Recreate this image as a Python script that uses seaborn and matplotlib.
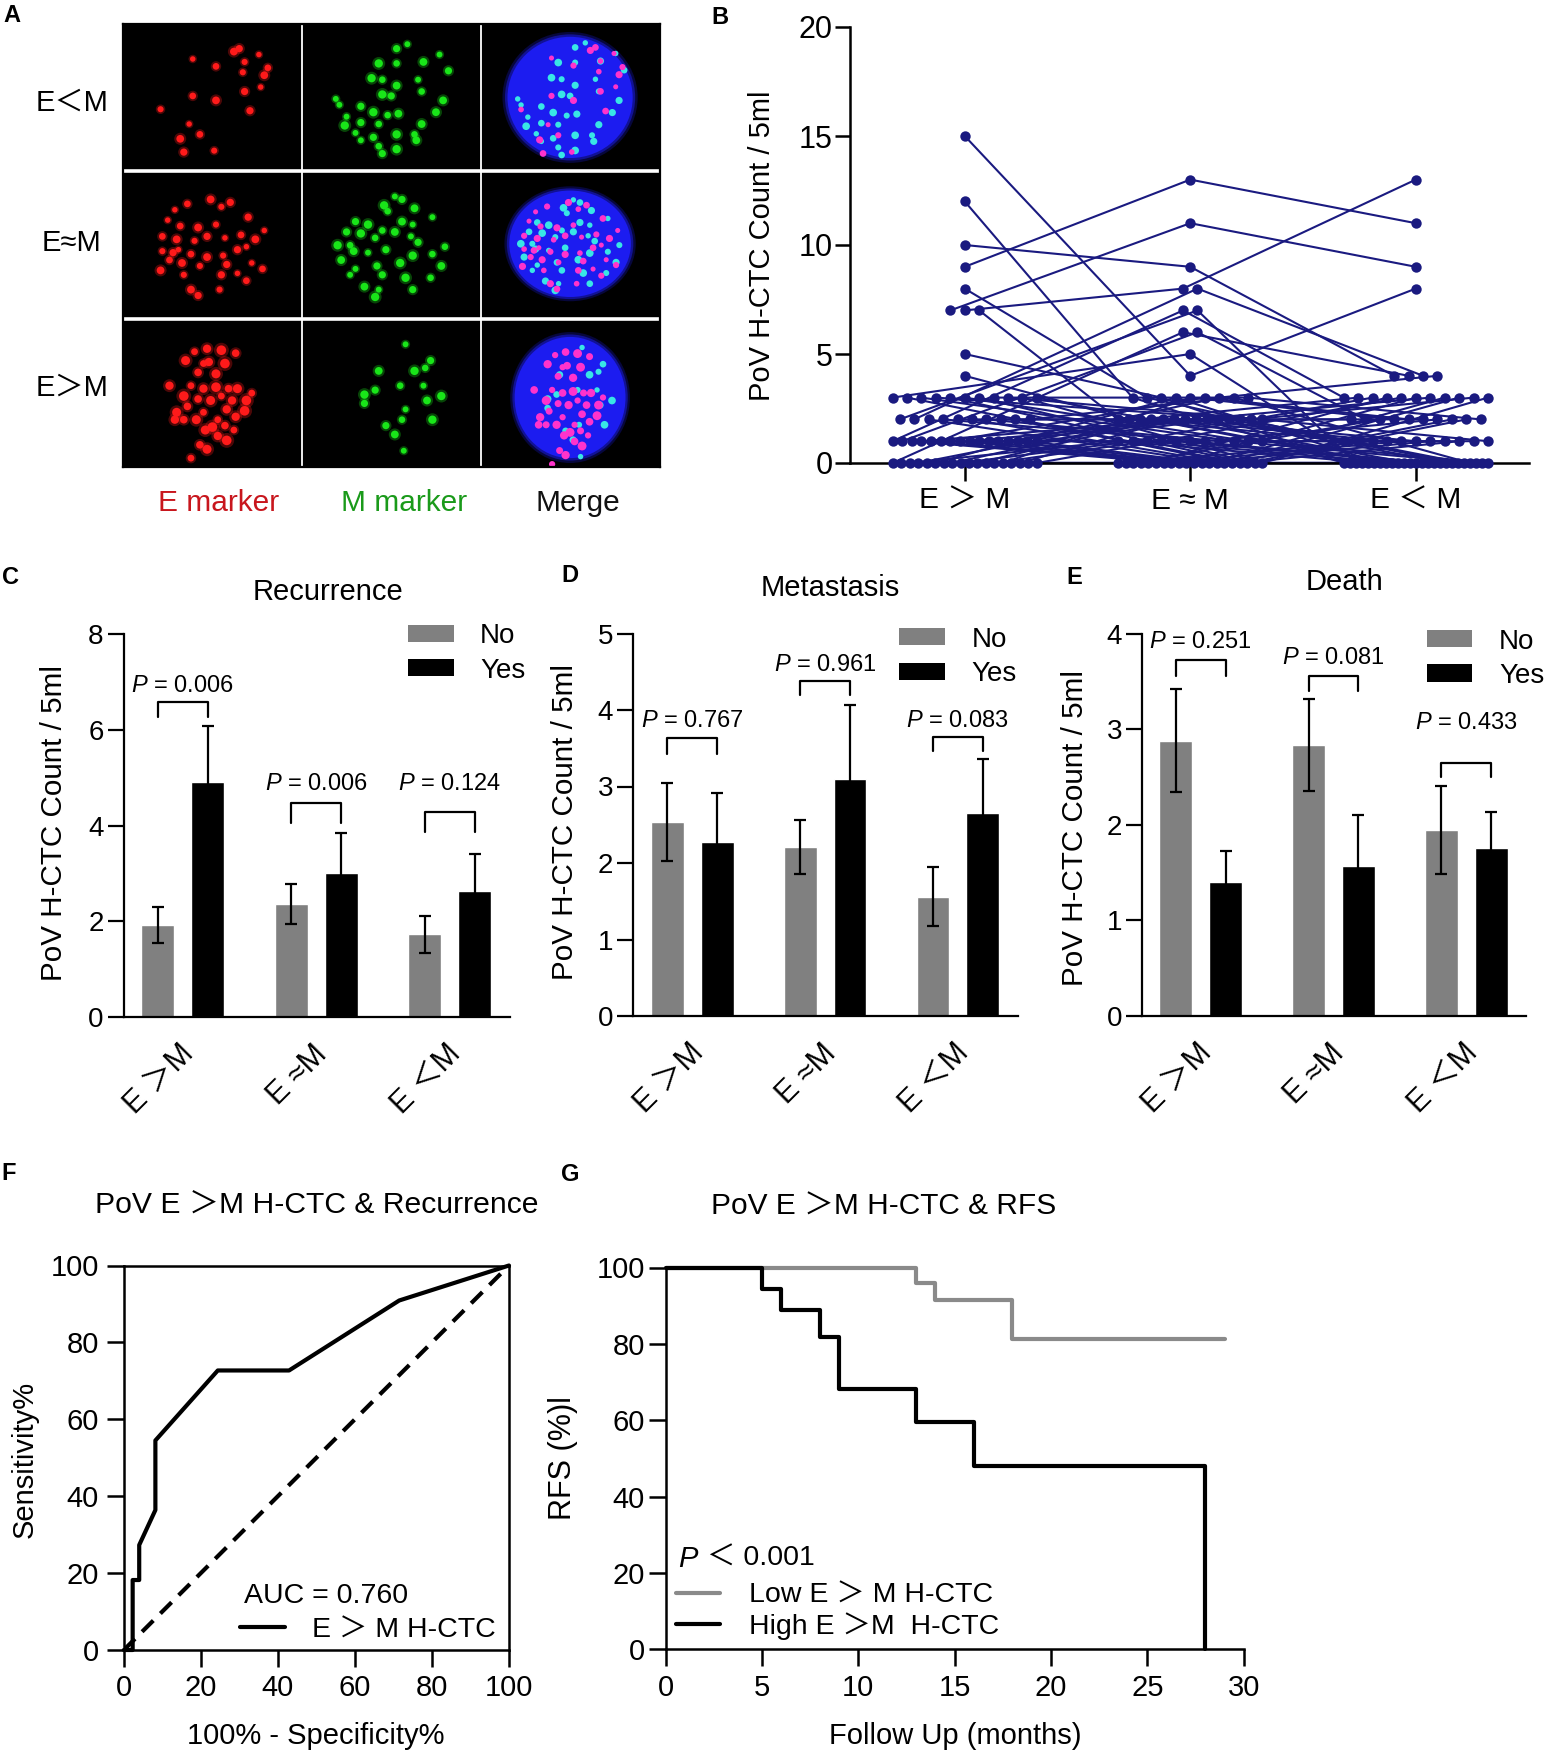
import numpy as np
import pandas as pd
import matplotlib
matplotlib.use("Agg")
import matplotlib.pyplot as plt
import matplotlib.transforms as mtrans
from matplotlib.lines import Line2D
from matplotlib.patches import Patch, Ellipse
import seaborn as sns

# ---------------------------------------------------------------- data
# Panel A (micrograph spots, normalised positions inside each cell: x, y-from-top)
A_ROWS = ["E＜M", "E≈M", "E＞M"]
A_COLS = ["E marker", "M marker", "Merge"]
A_COL_COLORS = ["#c8161d", "#1a9a1a", "#111111"]
RED_ELM = [(0.39,0.24),(0.52,0.29),(0.62,0.19),(0.68,0.26),(0.65,0.17),(0.76,0.21),(0.81,0.30),
           (0.79,0.35),(0.67,0.33),(0.68,0.46),(0.77,0.43),(0.39,0.49),(0.52,0.52),(0.21,0.58),
           (0.71,0.59),(0.37,0.68),(0.43,0.75),(0.32,0.78),(0.51,0.86),(0.34,0.87)]
GREEN_ELM = [(0.59,0.14),(0.53,0.17),(0.43,0.27),(0.53,0.27),(0.68,0.26),(0.77,0.21),(0.82,0.32),
             (0.39,0.37),(0.45,0.38),(0.53,0.42),(0.65,0.38),(0.50,0.49),(0.45,0.48),(0.67,0.46),
             (0.79,0.52),(0.19,0.51),(0.33,0.56),(0.40,0.60),(0.48,0.62),(0.54,0.61),(0.25,0.63),
             (0.33,0.67),(0.24,0.69),(0.43,0.68),(0.67,0.68),(0.30,0.74),(0.40,0.77),(0.53,0.75),
             (0.63,0.75),(0.64,0.79),(0.33,0.79),(0.45,0.88),(0.53,0.85),(0.43,0.83),(0.75,0.60),
             (0.21,0.55)]
RED_EAM = [(0.29,0.26),(0.36,0.22),(0.49,0.19),(0.55,0.24),(0.60,0.21),(0.25,0.33),(0.32,0.37),
           (0.42,0.38),(0.52,0.36),(0.70,0.31),(0.79,0.40),(0.22,0.44),(0.30,0.46),(0.40,0.47),
           (0.47,0.44),(0.57,0.45),(0.66,0.43),(0.74,0.46),(0.22,0.54),(0.28,0.55),(0.31,0.53),
           (0.38,0.56),(0.47,0.58),(0.56,0.57),(0.64,0.53),(0.69,0.51),(0.26,0.60),(0.33,0.62),
           (0.43,0.64),(0.58,0.63),(0.72,0.62),(0.78,0.66),(0.21,0.67),(0.34,0.70),(0.55,0.70),
           (0.64,0.69),(0.69,0.74),(0.38,0.80),(0.54,0.80),(0.42,0.84)]
GREEN_EAM = [(0.52,0.17),(0.56,0.19),(0.46,0.23),(0.48,0.27),(0.63,0.25),(0.73,0.31),(0.30,0.34),
             (0.37,0.36),(0.45,0.40),(0.56,0.34),(0.62,0.36),(0.25,0.41),(0.33,0.42),(0.41,0.45),
             (0.52,0.41),(0.61,0.44),(0.65,0.48),(0.20,0.50),(0.27,0.50),(0.29,0.54),(0.37,0.55),
             (0.47,0.53),(0.62,0.57),(0.80,0.51),(0.22,0.60),(0.30,0.66),(0.42,0.64),(0.55,0.62),
             (0.73,0.56),(0.78,0.64),(0.27,0.70),(0.45,0.70),(0.58,0.72),(0.72,0.72),(0.35,0.78),
             (0.43,0.80),(0.62,0.80),(0.41,0.85)]
RED_EGM = [(0.40,0.22),(0.47,0.20),(0.55,0.21),(0.63,0.23),(0.35,0.28),(0.45,0.30),(0.48,0.29),
           (0.57,0.30),(0.42,0.36),(0.52,0.37),(0.38,0.45),(0.45,0.47),(0.52,0.46),(0.59,0.47),
           (0.64,0.47),(0.72,0.50),(0.26,0.45),(0.34,0.52),(0.42,0.54),(0.49,0.55),(0.55,0.52),
           (0.61,0.55),(0.69,0.55),(0.36,0.59),(0.30,0.63),(0.45,0.63),(0.58,0.61),(0.68,0.62),
           (0.34,0.68),(0.41,0.68),(0.53,0.68),(0.63,0.66),(0.50,0.73),(0.57,0.72),(0.46,0.75),
           (0.62,0.75),(0.53,0.79),(0.58,0.82),(0.43,0.85),(0.47,0.88),(0.38,0.94),(0.29,0.68)]
GREEN_EGM = [(0.58,0.17),(0.72,0.28),(0.63,0.35),(0.69,0.33),(0.43,0.35),(0.68,0.45),(0.41,0.48),
             (0.35,0.51),(0.55,0.45),(0.70,0.55),(0.58,0.61),(0.35,0.57),(0.73,0.68),(0.56,0.68),
             (0.52,0.78),(0.57,0.89),(0.47,0.72),(0.78,0.52)]
MERGE_ELLIPSES = [(0.50, 0.50, 0.70, 0.82), (0.50, 0.49, 0.68, 0.72), (0.50, 0.53, 0.62, 0.82)]

# Panel B (paired counts per patient)
B_CATS = ["E ＞ M", "E ≈ M", "E ＜ M"]
B_E_GT_M = [15, 12, 10, 9, 8, 7, 7, 7, 5, 4, 1, 2, 0, 1, 3, 2,
            0, 0, 0, 0, 0, 0, 0, 0, 0, 0, 0, 0, 0, 0, 0, 0, 0,
            1, 1, 1, 1, 1, 1, 1, 1, 1, 1, 1, 1, 1, 1,
            2, 2, 2, 2, 2, 2, 2, 2,
            3, 3, 3, 3, 3, 3, 3, 3, 3, 3]
B_E_AP_M = [4, 3, 9, 13, 3, 11, 8, 2, 3, 2, 7, 7, 6, 6, 5, 8,
            0, 1, 2, 0, 3, 0, 2, 1, 0, 2, 0, 1, 3, 0, 2, 0, 1,
            0, 2, 0, 1, 3, 0, 2, 0, 1, 2, 0, 3, 0, 2,
            0, 1, 2, 0, 1, 2, 0, 3,
            0, 1, 2, 0, 1, 0, 3, 2, 0, 1]
B_E_LT_M = [8, 0, 4, 11, 1, 9, 13, 2, 0, 1, 3, 0, 4, 2, 0, 4,
            0, 0, 3, 1, 0, 2, 0, 3, 0, 1, 3, 0, 2, 0, 0, 1, 3,
            0, 1, 3, 0, 2, 0, 3, 1, 0, 2, 0, 4, 3, 0,
            0, 2, 0, 3, 1, 0, 2, 0,
            1, 0, 3, 2, 1, 0, 2, 1, 3, 0]

# Panels C-E (mean +/- SEM)
BAR_CATS = ["E ＞M", "E ≈M", "E ＜M"]
REC_NO, REC_NO_ERR = [1.92, 2.36, 1.73], [0.38, 0.42, 0.39]
REC_YES, REC_YES_ERR = [4.91, 3.00, 2.63], [1.17, 0.85, 0.77]
REC_P = ["0.006", "0.006", "0.124"]
MET_NO, MET_NO_ERR = [2.54, 2.21, 1.56], [0.51, 0.35, 0.39]
MET_YES, MET_YES_ERR = [2.27, 3.10, 2.66], [0.64, 0.96, 0.70]
MET_P = ["0.767", "0.961", "0.083"]
DEA_NO, DEA_NO_ERR = [2.88, 2.83, 1.95], [0.54, 0.48, 0.46]
DEA_YES, DEA_YES_ERR = [1.40, 1.57, 1.76], [0.33, 0.53, 0.37]
DEA_P = ["0.251", "0.081", "0.433"]

# Panel F (ROC)
ROC_FPR = [0, 2.3, 2.3, 4.0, 4.0, 8.2, 8.2, 24.4, 42.9, 71.5, 100]
ROC_TPR = [0, 0, 18.2, 18.2, 27.3, 36.4, 54.5, 72.7, 72.7, 90.9, 100]

# Panel G (Kaplan-Meier)
KM_LOW_T = [0, 13, 14, 18, 29]
KM_LOW_S = [100, 95.9, 91.5, 81.3, 81.3]
KM_HIGH_T = [0, 5, 6, 8, 9, 13, 16, 28]
KM_HIGH_S = [100, 94.4, 88.9, 81.7, 68.1, 59.6, 47.9, 0]

# ---------------------------------------------------------------- style
sns.set_theme(style="ticks")
plt.rcParams["font.family"] = ["Liberation Sans", "Noto Sans CJK SC", "DejaVu Sans"]
plt.rcParams["mathtext.fontset"] = "custom"
plt.rcParams["mathtext.rm"] = "Liberation Sans"
plt.rcParams["mathtext.it"] = "Liberation Sans:italic"
for k in ["axes.edgecolor", "xtick.color", "ytick.color", "text.color", "axes.labelcolor"]:
    plt.rcParams[k] = "black"
plt.rcParams["axes.linewidth"] = 1.6
plt.rcParams["xtick.major.width"] = 1.6
plt.rcParams["ytick.major.width"] = 1.6

GRAY = "#808080"
NAVY = "#1a1a80"
W, H = 1548, 1752
fig = plt.figure(figsize=(W / 100, H / 100), dpi=100)


def px_rect(l, r, t, b):
    return [l / W, 1 - b / H, (r - l) / W, (b - t) / H]


def ftext(x, y, s, **kw):
    return fig.text(x / W, 1 - y / H, s, **kw)


def panel_letter(x, y, s):
    ftext(x, y, s, fontsize=17, fontweight="bold", ha="left", va="top")


# ---------------------------------------------------------------- Panel A
axA = fig.add_axes(px_rect(123, 659.5, 23.5, 467))
axA.set_facecolor("black")
axA.set_xlim(0, 3)
axA.set_ylim(3, 0)
axA.set_xticks([])
axA.set_yticks([])
for sp in axA.spines.values():
    sp.set_color("black")
red_sets = [RED_ELM, RED_EAM, RED_EGM]
green_sets = [GREEN_ELM, GREEN_EAM, GREEN_EGM]


def spot_sizes(n, base):
    return np.array([base * (0.6 + 0.6 * ((i * 7) % 5) / 4) for i in range(n)])


for r in range(3):
    reds = np.array(red_sets[r])
    greens = np.array(green_sets[r])
    sr = spot_sizes(len(reds), 40 if r == 2 else 26)
    sg = spot_sizes(len(greens), 30)
    for col, pts, ss, c in [(0, reds, sr, "#ff1a1a"), (1, greens, sg, "#19e619")]:
        axA.scatter(col + pts[:, 0], r + pts[:, 1], s=ss * 2.4, color=c, alpha=0.3, linewidths=0)
        axA.scatter(col + pts[:, 0], r + pts[:, 1], s=ss, color=c, linewidths=0)
    cx, cy, ew, eh = MERGE_ELLIPSES[r]
    for k, al in [(1.08, 0.25), (1.04, 0.5), (1.0, 1.0)]:
        axA.add_patch(Ellipse((2 + cx, r + cy), ew * k, eh * k, color="#1c1cf0", alpha=al, lw=0))
    for pts, ss, c in [(greens, sg, "#38e6e6"), (reds, sr, "#ff33cc")]:
        mx = 2 + cx + (pts[:, 0] - 0.5) * ew * 1.35
        my = r + cy + (pts[:, 1] - 0.5) * eh * 1.25
        axA.scatter(mx, my, s=ss * 0.85, color=c, linewidths=0)
for v in [1, 2]:
    axA.axvline(v, color="white", lw=1.3)
    axA.axhline(v, color="white", lw=2.6)
for r, (lab, yy) in enumerate(zip(A_ROWS, [103, 243, 388])):
    ftext(72, yy, lab, fontsize=21, ha="center", va="center")
for lab, xx, c in zip(A_COLS, [219, 404, 578], A_COL_COLORS):
    ftext(xx, 503, lab, fontsize=21.5, ha="center", va="center", color=c)
panel_letter(3, 4, "A")

# ---------------------------------------------------------------- Panel B
axB = fig.add_axes(px_rect(849.5, 1528.8, 27, 463))
n_pat = len(B_E_GT_M)
dfB = pd.DataFrame({
    "patient": np.repeat(np.arange(n_pat), 3),
    "cat": np.tile([0, 1, 2], n_pat),
    "value": np.column_stack([B_E_GT_M, B_E_AP_M, B_E_LT_M]).ravel(),
})
grp = dfB.groupby(["cat", "value"])
dfB["rank"] = grp.cumcount()
dfB["n"] = grp["value"].transform("size")
spacing = np.minimum(0.064, 0.64 / np.maximum(dfB["n"] - 1, 1))
dfB["xpos"] = dfB["cat"] + (dfB["rank"] - (dfB["n"] - 1) / 2) * spacing
sns.lineplot(data=dfB, x="xpos", y="value", units="patient", estimator=None, sort=False,
             color=NAVY, lw=1.5, ax=axB, legend=False, clip_on=False)
sns.scatterplot(data=dfB, x="xpos", y="value", color=NAVY, s=56, linewidth=0,
                ax=axB, legend=False, zorder=3, clip_on=False)
axB.set_xlim(-0.511, 2.501)
axB.set_ylim(0, 20)
axB.set_yticks([0, 5, 10, 15, 20])
axB.set_xticks([0, 1, 2])
axB.set_xticklabels(B_CATS, fontsize=21.5)
axB.tick_params(axis="y", labelsize=22, length=11, width=1.8, pad=1)
axB.tick_params(axis="x", length=13, width=1.8, pad=4)
axB.set_xlabel("")
axB.set_ylabel("")
for sp in ["left", "bottom"]:
    axB.spines[sp].set_linewidth(1.8)
sns.despine(ax=axB)
ftext(762.5, 246, "PoV H-CTC Count / 5ml", fontsize=21, rotation=90, ha="center", va="center")
panel_letter(711, 6, "B")


# ---------------------------------------------------------------- Panels C-E
def bar_panel(rect, xlim, ymax, no, no_err, yes, yes_err, pvals, br_top, br_leg, p_y,
              leg_anchor, title, title_xy, ylab_xy, letter, letter_xy):
    ax = fig.add_axes(px_rect(*rect))
    df = pd.DataFrame({"group": BAR_CATS * 2, "status": ["No"] * 3 + ["Yes"] * 3,
                       "value": list(no) + list(yes)})
    sns.barplot(data=df, x="group", y="value", hue="status",
                palette={"No": GRAY, "Yes": "black"}, width=0.75, gap=0.34,
                errorbar=None, saturation=1, legend=False, ax=ax)
    bars = sorted([p for p in ax.patches if p.get_height() > 0], key=lambda p: p.get_x())
    errs = [e for pair in zip(no_err, yes_err) for e in pair]
    centers = [p.get_x() + p.get_width() / 2 for p in bars]
    for p, xc, e in zip(bars, centers, errs):
        ax.errorbar(xc, p.get_height(), yerr=e, color="black", capsize=4,
                    elinewidth=1.6, capthick=1.6, zorder=3)
    for i in range(3):
        x1, x2 = centers[2 * i], centers[2 * i + 1]
        ax.plot([x1, x1, x2, x2], [br_leg[i], br_top[i], br_top[i], br_leg[i]],
                color="black", lw=1.6, clip_on=False)
        ax.text(i, p_y[i], r"$\mathit{P}$ = " + pvals[i], fontsize=17,
                ha="center", va="center")
    ax.set_xlim(*xlim)
    ax.set_ylim(0, ymax)
    ax.set_yticks(range(0, ymax + 1, 2 if ymax == 8 else 1))
    ax.set_xlabel("")
    ax.set_ylabel("")
    ax.tick_params(axis="y", labelsize=20, length=11.5, width=1.6, pad=3)
    ax.tick_params(axis="x", length=0, pad=23.5)
    ax.set_xticks([0, 1, 2])
    ax.set_xticklabels(BAR_CATS, rotation=45, ha="right", va="center",
                       rotation_mode="anchor", fontsize=22)
    off = mtrans.ScaledTranslation(6.5 / 100, 0, fig.dpi_scale_trans)
    for lab in ax.get_xticklabels():
        lab.set_transform(lab.get_transform() + off)
    sns.despine(ax=ax)
    handles = [Patch(facecolor=GRAY, edgecolor="none"), Patch(facecolor="black", edgecolor="none")]
    ax.legend(handles, ["No", "Yes"], loc="upper left", bbox_to_anchor=leg_anchor,
              frameon=False, fontsize=20, handlelength=1.65, handleheight=0.58,
              handletextpad=0.95, labelspacing=0.3, borderpad=0, borderaxespad=0)
    ftext(title_xy[0], title_xy[1], title, fontsize=21, ha="center", va="center")
    ftext(ylab_xy[0], ylab_xy[1], "PoV H-CTC Count / 5ml", fontsize=21.3, rotation=90,
          ha="center", va="center")
    panel_letter(letter_xy[0], letter_xy[1], letter)
    return ax


bar_panel((123.8, 509.7, 634, 1017), (-0.44, 2.45), 8, REC_NO, REC_NO_ERR, REC_YES,
          REC_YES_ERR, REC_P, [6.59, 4.48, 4.29], [6.27, 4.06, 3.86], [6.92, 4.87, 4.87],
          (0.7365, 1.028), "Recurrence", (328.4, 592), (53.8, 822.5), "C", (2, 566))
bar_panel((633.3, 1018, 633.5, 1016), (-0.444, 2.453), 5, MET_NO, MET_NO_ERR, MET_YES,
          MET_YES_ERR, MET_P, [3.63, 4.38, 3.65], [3.43, 4.19, 3.46], [3.85, 4.59, 3.85],
          (0.691, 1.018), "Metastasis", (830, 587.6), (565, 822), "D", (561, 564))
bar_panel((1142.3, 1526, 633.5, 1016), (-0.44, 2.45), 4, DEA_NO, DEA_NO_ERR, DEA_YES,
          DEA_YES_ERR, DEA_P, [3.72, 3.56, 2.65], [3.56, 3.40, 2.50], [3.91, 3.74, 3.06],
          (0.741, 1.013), "Death", (1345, 581.6), (1075, 828), "E", (1066, 566))

# ---------------------------------------------------------------- Panel F
axF = fig.add_axes(px_rect(123.8, 509, 1265.5, 1650))
dfF = pd.DataFrame({"fpr": ROC_FPR, "tpr": ROC_TPR})
axF.plot([0, 100], [0, 100], color="black", lw=3, linestyle=(0, (3.8, 2.4)))
sns.lineplot(data=dfF, x="fpr", y="tpr", sort=False, estimator=None, color="black",
             lw=3, ax=axF, clip_on=False, legend=False)
axF.set_xlim(0, 100)
axF.set_ylim(0, 100)
axF.set_xticks(range(0, 101, 20))
axF.set_yticks(range(0, 101, 20))
axF.set_xlabel("")
axF.set_ylabel("")
axF.tick_params(axis="both", labelsize=21, length=12, width=1.8)
axF.tick_params(axis="y", pad=6)
axF.tick_params(axis="x", pad=5)
for sp in axF.spines.values():
    sp.set_linewidth(1.8)
axF.text(31.2, 14.0, "AUC = 0.760", fontsize=20.5, ha="left", va="center")
axF.legend([Line2D([], [], color="black", lw=3)], ["E ＞ M H-CTC"], loc="center left",
           bbox_to_anchor=(0.301, 0.051), frameon=False, fontsize=20.5, handlelength=1.6,
           handletextpad=0.95, borderpad=0, borderaxespad=0)
ftext(316.6, 1206, "PoV E ＞M H-CTC & Recurrence", fontsize=21.7, ha="center", va="center")
ftext(24.4, 1459.7, "Sensitivity%", fontsize=21, rotation=90, ha="center", va="center")
ftext(315.9, 1736, "100% - Specificity%", fontsize=21, ha="center", va="center")
panel_letter(1, 1162, "F")

# ---------------------------------------------------------------- Panel G
axG = fig.add_axes(px_rect(665.5, 1243.8, 1267.5, 1649.2))
sns.lineplot(x=KM_LOW_T, y=KM_LOW_S, estimator=None, sort=False, drawstyle="steps-post",
             color="#8a8a8a", lw=3, ax=axG, clip_on=False, legend=False)
sns.lineplot(x=KM_HIGH_T, y=KM_HIGH_S, estimator=None, sort=False, drawstyle="steps-post",
             color="black", lw=3, ax=axG, clip_on=False, legend=False)
axG.set_xlim(0, 30)
axG.set_ylim(0, 100)
axG.set_xticks(range(0, 31, 5))
axG.set_yticks(range(0, 101, 20))
axG.set_xlabel("")
axG.set_ylabel("")
axG.tick_params(axis="both", labelsize=21, length=12.5, width=1.8)
axG.tick_params(axis="y", pad=2.5)
axG.tick_params(axis="x", pad=5)
for sp in ["left", "bottom"]:
    axG.spines[sp].set_linewidth(1.8)
sns.despine(ax=axG)
axG.text(0.67, 23.6, "P", fontsize=21, style="italic", ha="left", va="center")
axG.text(0.67, 23.6, "＜ 0.001", fontsize=20.5, ha="left", va="center",
         transform=axG.transData + mtrans.ScaledTranslation(0.29, 0, fig.dpi_scale_trans))
axG.legend([Line2D([], [], color="#8a8a8a", lw=3), Line2D([], [], color="black", lw=3)],
           ["Low E ＞ M H-CTC", "High E ＞M  H-CTC"], loc="center left",
           bbox_to_anchor=(0.0183, 0.099), frameon=False, fontsize=20.5, handlelength=1.55,
           handletextpad=1.0, labelspacing=0.12, borderpad=0, borderaxespad=0)
ftext(883.8, 1206.7, "PoV E ＞M H-CTC & RFS", fontsize=21.5, ha="center", va="center")
ftext(563, 1457.8, "RFS (%)l", fontsize=22, rotation=90, ha="center", va="center")
ftext(955.4, 1736, "Follow Up (months)", fontsize=21, ha="center", va="center")
panel_letter(561, 1163, "G")

fig.savefig("out.png", dpi=100, facecolor="white")
